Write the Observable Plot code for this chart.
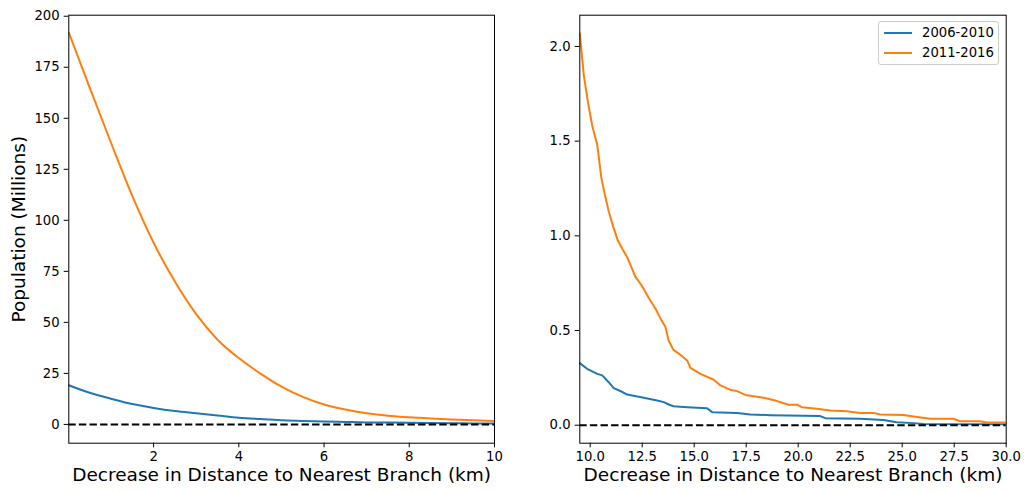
<!DOCTYPE html>
<html>
<head>
<meta charset="utf-8">
<script src="https://cdn.jsdelivr.net/npm/d3@7"></script>
<script src="https://cdn.jsdelivr.net/npm/@observablehq/plot@0.6"></script>
<style>
  html, body { margin: 0; padding: 0; background: white; }
  #wrap { position: relative; width: 1027px; height: 491px; font-family: "DejaVu Sans", sans-serif; }
  #left, #right { position: absolute; top: 0; }
  #left { left: 0; }
  #right { left: 520px; }
  #legend { position: absolute; left: 878px; top: 21px; width: 119px; height: 42px;
    border: 1px solid #cccccc; border-radius: 3px; background: rgba(255,255,255,0.8); }
  .li { position: absolute; left: 0; height: 16px; font-size: 13.2px; line-height: 16px; color: #000; }
  .sw { position: absolute; left: 5px; top: 7px; width: 28px; height: 0; border-top: 2px solid; }
  .lt { position: absolute; left: 43px; top: 0; white-space: nowrap; }
</style>
</head>
<body>
<div id="wrap">
  <div id="left"></div>
  <div id="right"></div>
  <div id="legend"></div>
</div>
<script>
// ---- data ----
const seriesNames = ["2006-2010", "2011-2016"];
const seriesColors = ["#1f77b4", "#ff7f0e"];

// Left panel (0–10 km), population in millions
const leftX = [0.01, 0.5, 1, 1.5, 2, 2.5, 3, 3.5, 4, 4.5, 5, 5.5, 6, 6.5, 7, 7.5, 8, 8.5, 9, 9.5, 10];
const left2006 = [19.2, 15.5, 12.6, 10.0, 8.1, 6.6, 5.5, 4.4, 3.3, 2.6, 2.0, 1.7, 1.4, 1.2, 1.0, 0.9, 0.8, 0.7, 0.6, 0.5, 0.45];
const left2011 = [192, 165, 138, 112, 89, 70, 54, 41.5, 32.5, 25, 18.5, 13.5, 9.8, 7.3, 5.5, 4.3, 3.5, 2.9, 2.4, 2.0, 1.7];

// Right panel (9.5–30 km)
const right2006X = [9.5, 9.85, 10.34, 10.58, 10.89, 11.13, 11.5, 11.78, 12.57, 13.22, 13.54, 13.8, 14.0, 14.66, 15.62, 15.86, 17.06, 17.7, 18.66, 21.06, 21.3, 22.98, 24.1, 24.74, 25.54, 26.02, 30];
const right2006 = [0.328, 0.298, 0.271, 0.263, 0.227, 0.196, 0.178, 0.162, 0.145, 0.13, 0.122, 0.108, 0.1, 0.095, 0.09, 0.069, 0.065, 0.057, 0.053, 0.048, 0.037, 0.034, 0.028, 0.016, 0.011, 0.006, 0.005];
const right2011X = [9.5, 9.69, 9.9, 10.1, 10.34, 10.53, 10.7, 10.89, 11.1, 11.33, 11.55, 11.78, 12.0, 12.18, 12.4, 12.57, 12.81, 13.14, 13.4, 13.62, 13.77, 14.0, 14.3, 14.66, 14.82, 15.3, 15.94, 16.26, 16.74, 17.06, 17.46, 18.34, 18.9, 19.54, 19.94, 20.18, 20.9, 21.54, 22.34, 22.98, 23.62, 23.94, 25.06, 25.54, 26.34, 27.46, 27.78, 28.74, 29.06, 30];
const right2011 = [2.07, 1.85, 1.70, 1.58, 1.48, 1.31, 1.22, 1.13, 1.05, 0.975, 0.93, 0.887, 0.83, 0.782, 0.75, 0.72, 0.673, 0.615, 0.56, 0.518, 0.447, 0.398, 0.375, 0.342, 0.303, 0.271, 0.24, 0.21, 0.187, 0.18, 0.16, 0.145, 0.13, 0.108, 0.108, 0.095, 0.087, 0.078, 0.074, 0.065, 0.065, 0.057, 0.054, 0.046, 0.034, 0.034, 0.021, 0.021, 0.014, 0.014];

const leftXTicks = [2, 4, 6, 8, 10];
const leftYTicks = [0, 25, 50, 75, 100, 125, 150, 175, 200];
const rightXTicks = [10, 12.5, 15, 17.5, 20, 22.5, 25, 27.5, 30];
const rightYTicks = [0, 0.5, 1.0, 1.5, 2.0];

const xLabel = "Decrease in Distance to Nearest Branch (km)";
const yLabel = "Population (Millions)";

// ---- build ----
const toRows = (xs, ys, s) => xs.map((x, i) => ({x, y: ys[i], s}));
const leftRows = [...toRows(leftX, left2006, seriesNames[0]), ...toRows(leftX, left2011, seriesNames[1])];
const rightRows = [...toRows(right2006X, right2006, seriesNames[0]), ...toRows(right2011X, right2011, seriesNames[1])];

const baseStyle = {fontFamily: "DejaVu Sans", fontSize: "13.2px", color: "black", background: "white", overflow: "visible"};

function panel({width, ml, mr, xdom, ydom, xticks, yticks, xfmt, yfmt, rows, curve, withYLabel}) {
  return Plot.plot({
    width, height: 491,
    marginLeft: ml, marginRight: mr, marginTop: 14.7, marginBottom: 48.3,
    style: baseStyle,
    x: {domain: xdom},
    y: {domain: ydom},
    color: {domain: seriesNames, range: seriesColors},
    marks: [
      Plot.line(rows, {x: "x", y: "y", z: "s", stroke: "s", strokeWidth: 2, curve, clip: true}),
      Plot.ruleY([0], {stroke: "black", strokeWidth: 2, strokeDasharray: "7.4,3.2"}),
      Plot.frame({stroke: "black", strokeWidth: 1}),
      Plot.axisX({ticks: xticks, tickFormat: xfmt, tickSize: 4.6, tickPadding: 4.2, label: null, fontSize: 13.2, strokeWidth: 1}),
      Plot.axisY({ticks: yticks, tickFormat: yfmt, tickSize: 4.6, tickPadding: 4.6, label: null, fontSize: 13.2, strokeWidth: 1}),
      Plot.text([xLabel], {text: d => d, frameAnchor: "bottom", dy: 37.5, fontSize: 18.5, fill: "black"}),
      withYLabel ? Plot.text([yLabel], {text: d => d, frameAnchor: "left", textAnchor: "middle", dx: -50, rotate: -90, fontSize: 18.5, fill: "black"}) : null
    ]
  });
}

document.getElementById("left").appendChild(panel({
  width: 520, ml: 68.3, mr: 26, xdom: [0.01, 10], ydom: [-9.2, 200.5],
  xticks: leftXTicks, yticks: leftYTicks, xfmt: d3.format("d"), yfmt: d3.format("d"),
  rows: leftRows, curve: "monotone-x", withYLabel: true
}));
document.getElementById("right").appendChild(panel({
  width: 507, ml: 59.3, mr: 21.3, xdom: [9.5, 30], ydom: [-0.095, 2.165],
  xticks: rightXTicks, yticks: rightYTicks, xfmt: d3.format(".1f"), yfmt: d3.format(".1f"),
  rows: rightRows, curve: "linear", withYLabel: false
}));

// legend
const lg = document.getElementById("legend");
seriesNames.forEach((name, i) => {
  const item = document.createElement("div");
  item.className = "li";
  item.style.top = (3 + i * 20) + "px";
  item.style.width = "119px";
  const sw = document.createElement("div");
  sw.className = "sw";
  sw.style.borderTopColor = seriesColors[i];
  const t = document.createElement("div");
  t.className = "lt";
  t.textContent = name;
  item.appendChild(sw); item.appendChild(t);
  lg.appendChild(item);
});
</script>
</body>
</html>
